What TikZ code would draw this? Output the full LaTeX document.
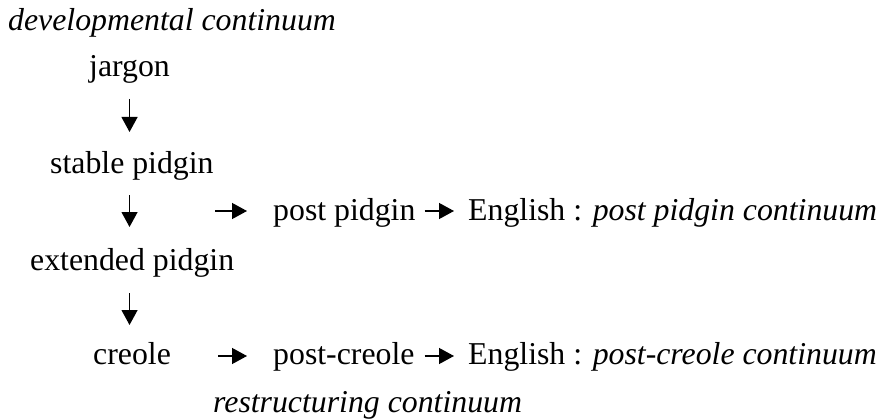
\documentclass[tikz,border=0pt]{standalone}
\usepackage{fontspec}
\setmainfont{Liberation Serif}
\usetikzlibrary{arrows.meta}
\begin{document}
\begin{tikzpicture}[x=1pt,y=1pt,
  lbl/.style={anchor=base west,inner sep=0pt,font=\fontsize{31.8pt}{38pt}\selectfont},
  arr/.style={line width=1.3pt,-{Triangle[length=15pt,width=16pt]}}]
\useasboundingbox (0,0) rectangle (879,-420);
\node[lbl] (dev) at (8,-31) {\itshape developmental continuum};
\node[lbl] (jar) at (89,-77) {jargon};
\node[lbl] (sta) at (50,-173) {stable pidgin};
\node[lbl] (pp)  at (273,-220) {post pidgin};
\node[lbl] (en1) at (468,-220) {English : \textit{post pidgin continuum}};
\node[lbl] (ext) at (30,-270) {extended pidgin};
\node[lbl] (cr)  at (93,-364) {creole};
\node[lbl] (pc)  at (273,-364) {post-creole};
\node[lbl] (en2) at (468,-364) {English : \textit{post-creole continuum}};
\node[lbl] (res) at (213,-412) {\itshape restructuring continuum};
% vertical arrows
\draw[arr] ([yshift=-22pt]jar.base) -- ([yshift=41pt]jar.base |- sta.base);
\draw[arr] ([yshift=-22pt]jar.base |- sta.base) -- ([yshift=43pt]jar.base |- ext.base);
\draw[arr] ([yshift=-23pt]jar.base |- ext.base) -- ([yshift=39pt]jar.base |- cr.base);
% horizontal arrows
\draw[arr] ([shift={(-58pt,9pt)}]pp.base west) -- ([shift={(-26pt,9pt)}]pp.base west);
\draw[arr] ([shift={(9pt,9pt)}]pp.base east) -- ([shift={(-14pt,9pt)}]en1.base west);
\draw[arr] ([shift={(47pt,8pt)}]cr.base east) -- ([shift={(-26pt,8pt)}]pc.base west);
\draw[arr] ([shift={(10pt,8pt)}]pc.base east) -- ([shift={(-14pt,8pt)}]en2.base west);
\end{tikzpicture}
\end{document}
